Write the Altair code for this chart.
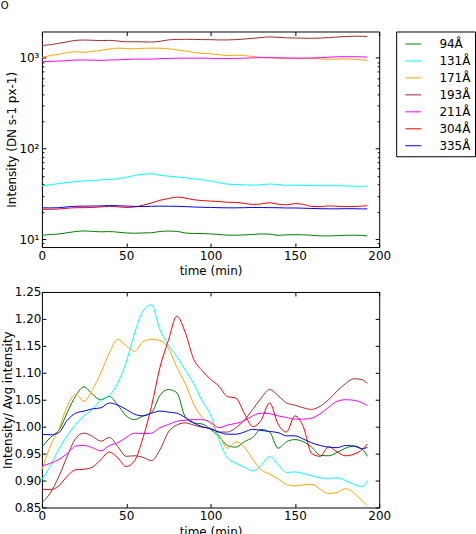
import altair as alt
import pandas as pd

# ---------------- data ----------------
time_min = [0, 5, 10, 15, 20, 25, 30, 35, 40, 45, 50, 55, 60, 65, 70, 75, 80, 85, 90, 95,
            100, 105, 110, 115, 120, 125, 130, 135, 140, 145, 150, 155, 160, 165, 170, 175,
            180, 185, 190, 193]

wavelengths = ["94Å", "131Å", "171Å", "193Å", "211Å", "304Å", "335Å"]
line_colors = ["#008000", "#00FFFF", "#FFA500", "#A52A2A", "#FF00FF", "#FF0000", "#0000FF"]
mean_intensity = [11.5, 43.0, 1100.0, 1590.0, 980.0, 24.2, 22.5]

ratio_94 = [0.962, 0.980, 0.993, 1.026, 1.057, 1.074, 1.060, 1.050, 1.056, 1.040,
            1.020, 1.013, 1.020, 1.026, 1.058, 1.069, 1.063, 1.018, 1.007, 1.005,
            0.995, 0.982, 0.965, 0.962, 0.972, 0.980, 0.995, 0.990, 0.960, 0.972,
            0.976, 0.972, 0.962, 0.947, 0.946, 0.952, 0.960, 0.964, 0.958, 0.945]
ratio_131 = [0.902, 0.927, 0.958, 0.983, 1.004, 1.020, 1.032, 1.050, 1.058, 1.081,
             1.120, 1.174, 1.215, 1.226, 1.180, 1.152, 1.130, 1.105, 1.080, 1.048,
             1.022, 0.976, 0.942, 0.932, 0.925, 0.918, 0.928, 0.945, 0.930, 0.915,
             0.916, 0.913, 0.909, 0.905, 0.904, 0.905, 0.900, 0.893, 0.889, 0.900]
ratio_171 = [0.920, 0.964, 0.995, 1.038, 1.060, 1.047, 1.069, 1.100, 1.137, 1.162,
             1.150, 1.140, 1.158, 1.162, 1.160, 1.146, 1.110, 1.080, 1.042, 1.017,
             1.007, 0.985, 0.960, 0.972, 0.962, 0.940, 0.920, 0.912, 0.903, 0.893,
             0.890, 0.892, 0.893, 0.884, 0.876, 0.878, 0.885, 0.877, 0.862, 0.853]
ratio_193 = [0.859, 0.877, 0.907, 0.945, 0.978, 0.988, 0.982, 0.973, 0.980, 0.963,
             0.945, 0.946, 0.943, 0.937, 0.957, 0.990, 1.003, 1.007, 1.003, 0.999,
             0.997, 0.990, 0.990, 0.998, 1.012, 1.032, 1.053, 1.069, 1.058, 1.044,
             1.040, 1.035, 1.032, 1.038, 1.050, 1.066, 1.080, 1.089, 1.087, 1.080]
ratio_211 = [0.927, 0.932, 0.939, 0.950, 0.964, 0.965, 0.961, 0.955, 0.965, 0.970,
             0.980, 0.988, 0.987, 0.988, 0.998, 1.004, 1.010, 1.012, 1.013, 1.013,
             1.008, 0.998, 1.003, 1.006, 1.011, 1.020, 1.025, 1.024, 1.020, 1.017,
             1.014, 1.014, 1.016, 1.024, 1.036, 1.047, 1.050, 1.049, 1.044, 1.039]
ratio_304 = [0.884, 0.883, 0.890, 0.908, 0.920, 0.921, 0.925, 0.939, 0.953, 0.942,
             0.926, 0.937, 0.980, 1.038, 1.110, 1.160, 1.205, 1.175, 1.125, 1.104,
             1.088, 1.075, 1.056, 1.053, 1.025, 1.000, 1.012, 1.044, 1.005, 0.990,
             1.020, 1.000, 0.950, 0.945, 0.963, 0.953, 0.946, 0.949, 0.958, 0.968]
ratio_335 = [0.986, 0.985, 0.989, 1.012, 1.025, 1.029, 1.033, 1.035, 1.044, 1.040,
             1.032, 1.023, 1.020, 1.025, 1.029, 1.027, 1.025, 1.017, 1.007, 1.000,
             0.996, 0.990, 0.986, 0.986, 0.990, 0.995, 0.993, 0.991, 0.989, 0.983,
             0.983, 0.977, 0.970, 0.965, 0.962, 0.961, 0.965, 0.964, 0.959, 0.962]

x_ticks = [0, 50, 100, 150, 200]
top_major = [10, 100, 1000]
top_minor = [9, 20, 30, 40, 50, 60, 70, 80, 90, 200, 300, 400, 500, 600, 700, 800, 900]
bottom_ticks = [0.85, 0.90, 0.95, 1.00, 1.05, 1.10, 1.15, 1.20, 1.25]

all_ratios = [ratio_94, ratio_131, ratio_171, ratio_193, ratio_211, ratio_304, ratio_335]
rows = []
for name, avg, ratios in zip(wavelengths, mean_intensity, all_ratios):
    assert len(ratios) == len(time_min)
    for t, r in zip(time_min, ratios):
        rows.append({"time": t, "band": name, "ratio": r, "intensity": avg * r})
df = pd.DataFrame(rows)

# ---------------- styling ----------------
FONT = "DejaVu Sans"
W, H = 338, 216
TICK = 4

xscale = alt.Scale(domain=[0, 200], nice=False, zero=False)
yscale_top = alt.Scale(type="log", domain=[8.2, 1950], nice=False)
yscale_bot = alt.Scale(domain=[0.85, 1.25], nice=False, zero=False)

label_sup = "'10' + (datum.value == 10 ? '\u00b9' : datum.value == 100 ? '\u00b2' : '\u00b3')"
pad_label = "length(datum.label) < 4 ? '\u2007' + datum.label : datum.label"

color = alt.Color(
    "band:N",
    scale=alt.Scale(domain=wavelengths, range=line_colors),
    sort=wavelengths,
    legend=alt.Legend(
        title=None, orient="none", legendX=355, legendY=0,
        symbolType="stroke", symbolSize=256, symbolStrokeWidth=1,
        symbolOffset=4.7, labelOffset=17.6, padding=4, rowPadding=2,
        labelFont=FONT, labelFontSize=12, labelColor="black",
        labelExpr=pad_label,
        strokeColor="black", fillColor="white",
    ),
)


def x_main():
    return alt.X("time:Q", scale=xscale, axis=alt.Axis(
        values=x_ticks, orient="bottom", offset=-TICK, tickSize=TICK, labelPadding=3,
        title="time (min)", titlePadding=5))


def x_top_ticks():
    return alt.X("time:Q", scale=xscale, axis=alt.Axis(
        values=x_ticks, orient="top", offset=-TICK, tickSize=TICK, labels=False, title=None))


# ---------------- top panel ----------------
base_top = alt.Chart(df)
top_lines = base_top.mark_line(strokeWidth=1, interpolate="monotone").encode(
    x=x_main(),
    y=alt.Y("intensity:Q", scale=yscale_top, axis=alt.Axis(
        values=top_major, labelExpr=label_sup, orient="left", offset=-TICK, tickSize=TICK,
        labelPadding=3, title="Intensity (DN s-1 px-1)", titlePadding=0)),
    color=color,
)
top_frame1 = base_top.mark_line(opacity=0).encode(
    x=x_top_ticks(),
    y=alt.Y("intensity:Q", scale=yscale_top, axis=alt.Axis(
        values=top_major, orient="right", offset=-TICK, tickSize=TICK, labels=False, title=None)),
    detail="band:N",
)
top_frame2 = base_top.mark_line(opacity=0).encode(
    x=alt.X("time:Q", scale=xscale, axis=None),
    y=alt.Y("intensity:Q", scale=yscale_top, axis=alt.Axis(
        values=top_minor, orient="left", offset=-2, tickSize=2, labels=False, title=None)),
    detail="band:N",
)
top_frame3 = base_top.mark_line(opacity=0).encode(
    x=alt.X("time:Q", scale=xscale, axis=None),
    y=alt.Y("intensity:Q", scale=yscale_top, axis=alt.Axis(
        values=top_minor, orient="right", offset=-2, tickSize=2, labels=False, title=None)),
    detail="band:N",
)
top = alt.layer(top_lines, top_frame1, top_frame2, top_frame3).resolve_axis(
    x="independent", y="independent").properties(width=W, height=H)

# ---------------- bottom panel ----------------
base_bot = alt.Chart(df)
bot_lines = base_bot.mark_line(strokeWidth=1, interpolate="monotone").encode(
    x=x_main(),
    y=alt.Y("ratio:Q", scale=yscale_bot, axis=alt.Axis(
        values=bottom_ticks, format=".2f", orient="left", offset=-TICK, tickSize=TICK,
        labelPadding=1, title="Intensity/ Avg intensity", titlePadding=0)),
    color=alt.Color("band:N", scale=alt.Scale(domain=wavelengths, range=line_colors), legend=None),
)
bot_frame = base_bot.mark_line(opacity=0).encode(
    x=x_top_ticks(),
    y=alt.Y("ratio:Q", scale=yscale_bot, axis=alt.Axis(
        values=bottom_ticks, orient="right", offset=-TICK, tickSize=TICK, labels=False, title=None)),
    detail="band:N",
)
bottom = alt.layer(bot_lines, bot_frame).resolve_axis(
    x="independent", y="independent").properties(width=W, height=H)

chart = alt.vconcat(top, bottom, spacing=7).properties(
    title=alt.TitleParams("O", anchor="start", fontSize=10, font=FONT, fontWeight="normal",
                          color="black", offset=20),
    padding={"left": 0, "top": 0, "right": 0, "bottom": 0},
).configure_view(
    stroke="black", strokeWidth=1,
).configure_axis(
    domain=False, grid=False, tickColor="black", tickWidth=1,
    labelFont=FONT, labelFontSize=12, labelColor="black",
    titleFont=FONT, titleFontSize=12, titleFontWeight="normal", titleColor="black",
    labelFlush=False, labelOverlap=False,
)

chart.save("out.html", embed_options={"renderer": "svg", "actions": False})
